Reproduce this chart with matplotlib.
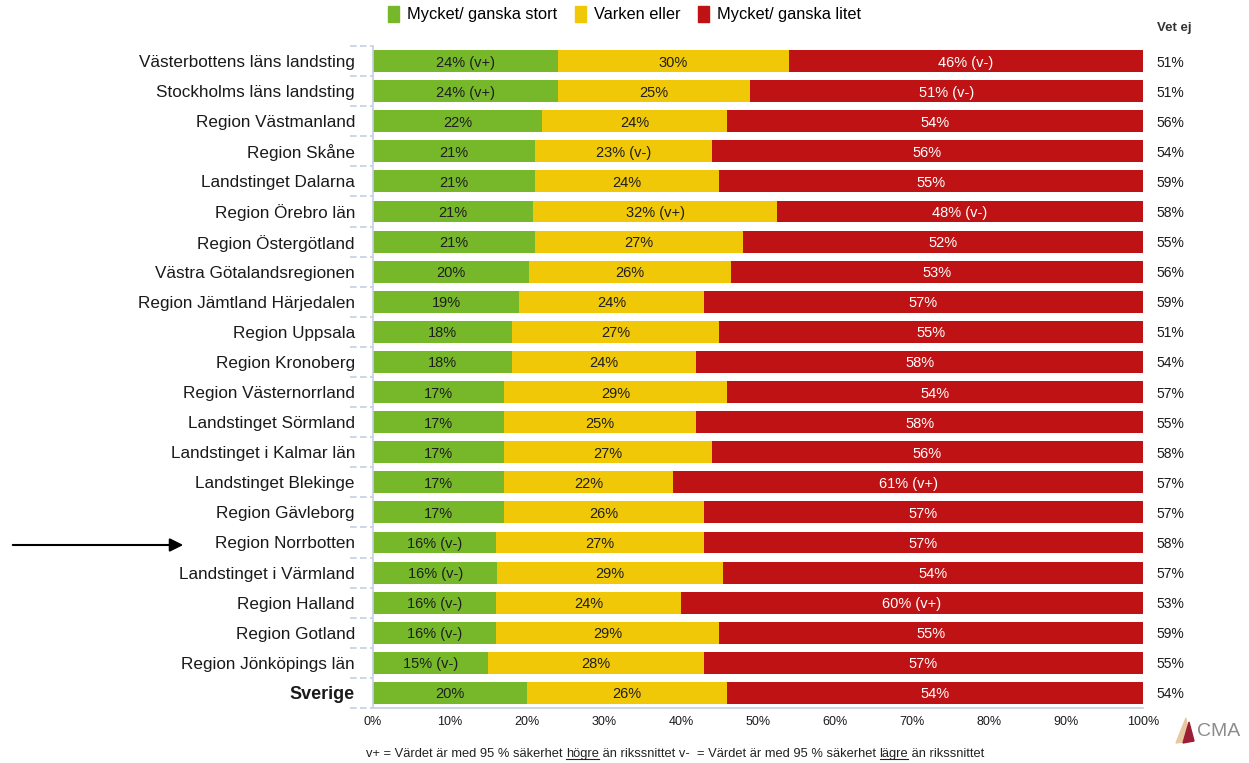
import matplotlib
matplotlib.use("Agg")
import matplotlib.pyplot as plt
from matplotlib.patches import Patch, Polygon
from matplotlib.lines import Line2D
import numpy as np

plt.rcParams['font.family'] = ['Liberation Sans', 'DejaVu Sans']

regions = [
    "Västerbottens läns landsting", "Stockholms läns landsting", "Region Västmanland",
    "Region Skåne", "Landstinget Dalarna", "Region Örebro län", "Region Östergötland",
    "Västra Götalandsregionen", "Region Jämtland Härjedalen", "Region Uppsala",
    "Region Kronoberg", "Region Västernorrland", "Landstinget Sörmland",
    "Landstinget i Kalmar län", "Landstinget Blekinge", "Region Gävleborg",
    "Region Norrbotten", "Landstinget i Värmland", "Region Halland",
    "Region Gotland", "Region Jönköpings län", "Sverige",
]
stort = [24, 24, 22, 21, 21, 21, 21, 20, 19, 18, 18, 17, 17, 17, 17, 17, 16, 16, 16, 16, 15, 20]
varken = [30, 25, 24, 23, 24, 32, 27, 26, 24, 27, 24, 29, 25, 27, 22, 26, 27, 29, 24, 29, 28, 26]
litet = [46, 51, 54, 56, 55, 48, 52, 53, 57, 55, 58, 54, 58, 56, 61, 57, 57, 54, 60, 55, 57, 54]
vet_ej = [51, 51, 56, 54, 59, 58, 55, 56, 59, 51, 54, 57, 55, 58, 57, 57, 58, 57, 53, 59, 55, 54]
# significance markers
stort_sig = ["v+", "v+", "", "", "", "", "", "", "", "", "", "", "", "", "", "",
             "v-", "v-", "v-", "v-", "v-", ""]
varken_sig = ["", "", "", "v-", "", "v+", "", "", "", "", "", "", "", "", "", "",
              "", "", "", "", "", ""]
litet_sig = ["v-", "v-", "", "", "", "v-", "", "", "", "", "", "", "", "", "v+", "",
             "", "", "v+", "", "", ""]
series_names = ["Mycket/ ganska stort", "Varken eller", "Mycket/ ganska litet"]
x_ticks = [0, 10, 20, 30, 40, 50, 60, 70, 80, 90, 100]

colors = ["#76b82a", "#f0c808", "#bf1214"]
text_colors = ["#1e1e1e", "#1e1e1e", "white"]

fig = plt.figure(figsize=(12.49, 7.63), dpi=100)
ax = fig.add_axes([0.2986, 0.0721, 0.6165, 0.8676])

n = len(regions)
y = np.arange(n)
vals = np.array([stort, varken, litet], dtype=float)
tot = vals.sum(axis=0)
shares = vals / tot * 100
sigs = [stort_sig, varken_sig, litet_sig]
left = np.zeros(n)
for k in range(3):
    ax.barh(y, shares[k], left=left, height=0.73, color=colors[k], edgecolor='none')
    for i in range(n):
        lab = f"{int(vals[k][i])}%"
        if sigs[k][i]:
            lab += f" ({sigs[k][i]})"
        ax.text(left[i] + shares[k][i] / 2, y[i], lab, ha='center', va='center_baseline',
                fontsize=10.5, color=text_colors[k])
    left += shares[k]

ax.set_xlim(0, 100)
ax.set_ylim(n - 0.5, -0.5)
ax.set_yticks(y)
ax.set_yticklabels(regions, fontsize=12.3, color='#1a1a1a')
ax.tick_params(axis='y', length=0, pad=13)
lbls = ax.get_yticklabels()
lbls[-1].set_fontweight('bold')
lbls[-1].set_fontsize(13)
ax.set_xticks(x_ticks)
ax.set_xticklabels([f"{t}%" for t in x_ticks], fontsize=9, color='#1a1a1a')
ax.tick_params(axis='x', length=0, pad=6)

for s in ['top', 'right']:
    ax.spines[s].set_visible(False)
for s in ['left', 'bottom']:
    ax.spines[s].set_color('#c3d1e2')
    ax.spines[s].set_linewidth(1.2)

# dashed separators between categories on the y axis
tr = matplotlib.transforms.blended_transform_factory(ax.transAxes, ax.transData)
for b in np.arange(-0.5, n, 1.0):
    ax.add_line(Line2D([-0.03, 0], [b, b], transform=tr, color='#c3d1e2',
                       lw=1.2, ls=(0, (4, 2)), clip_on=False))

# Vet ej column
for i in range(n):
    ax.text(101.8, y[i], f"{vet_ej[i]}%", ha='left', va='center_baseline', fontsize=10,
            color='#1a1a1a', clip_on=False)
fig.text(1157 / 1249, 1 - 28 / 763, "Vet ej", ha='left', va='center', fontsize=9.5,
         fontweight='bold', color='#333333')

# legend
handles = [Patch(color=c, label=l) for c, l in zip(colors, series_names)]
fig.legend(handles=handles, loc='center', bbox_to_anchor=(0.5, 1 - 14 / 763), ncol=3,
           frameon=False, fontsize=11.8, handlelength=0.65, handleheight=1.1,
           handletextpad=0.5, columnspacing=1.1)

# arrow pointing at Region Norrbotten
fig.add_artist(matplotlib.patches.FancyArrowPatch(
    (10 / 1249, 1 - 545 / 763), (186 / 1249, 1 - 545 / 763),
    transform=fig.transFigure, arrowstyle='-|>', mutation_scale=20,
    color='black', lw=1.5))

# footnote with underlined words
fig.canvas.draw()
renderer = fig.canvas.get_renderer()
pieces = [("v+ = Värdet är med 95 % säkerhet ", False), ("högre", True),
          (" än rikssnittet v-  = Värdet är med 95 % säkerhet ", False), ("lägre", True),
          (" än rikssnittet", False)]
xpos = 366 / 1249
ypos = 1 - 757 / 763
for txt, ul in pieces:
    t = fig.text(xpos, ypos, txt, fontsize=9.3, color='#222222', ha='left', va='baseline')
    bb = t.get_window_extent(renderer).transformed(fig.transFigure.inverted())
    if ul:
        fig.add_artist(Line2D([bb.x0, bb.x1], [ypos - 0.003, ypos - 0.003],
                              transform=fig.transFigure, color='#222222', lw=0.8))
    xpos = bb.x1

# CMA logo
fig.add_artist(Polygon([(1176 / 1249, 1 - 743 / 763), (1186 / 1249, 1 - 718 / 763),
                        (1189 / 1249, 1 - 741 / 763)], closed=True,
                       transform=fig.transFigure, color='#e6c9a0'))
fig.add_artist(Polygon([(1183 / 1249, 1 - 743 / 763), (1189 / 1249, 1 - 722 / 763),
                        (1194 / 1249, 1 - 741 / 763)], closed=True,
                       transform=fig.transFigure, color='#9c1e35'))
fig.text(1197 / 1249, 1 - 732 / 763, "CMA", fontsize=14, color='#8c8c8c',
         ha='left', va='center')

fig.savefig("out.png", dpi=100)
